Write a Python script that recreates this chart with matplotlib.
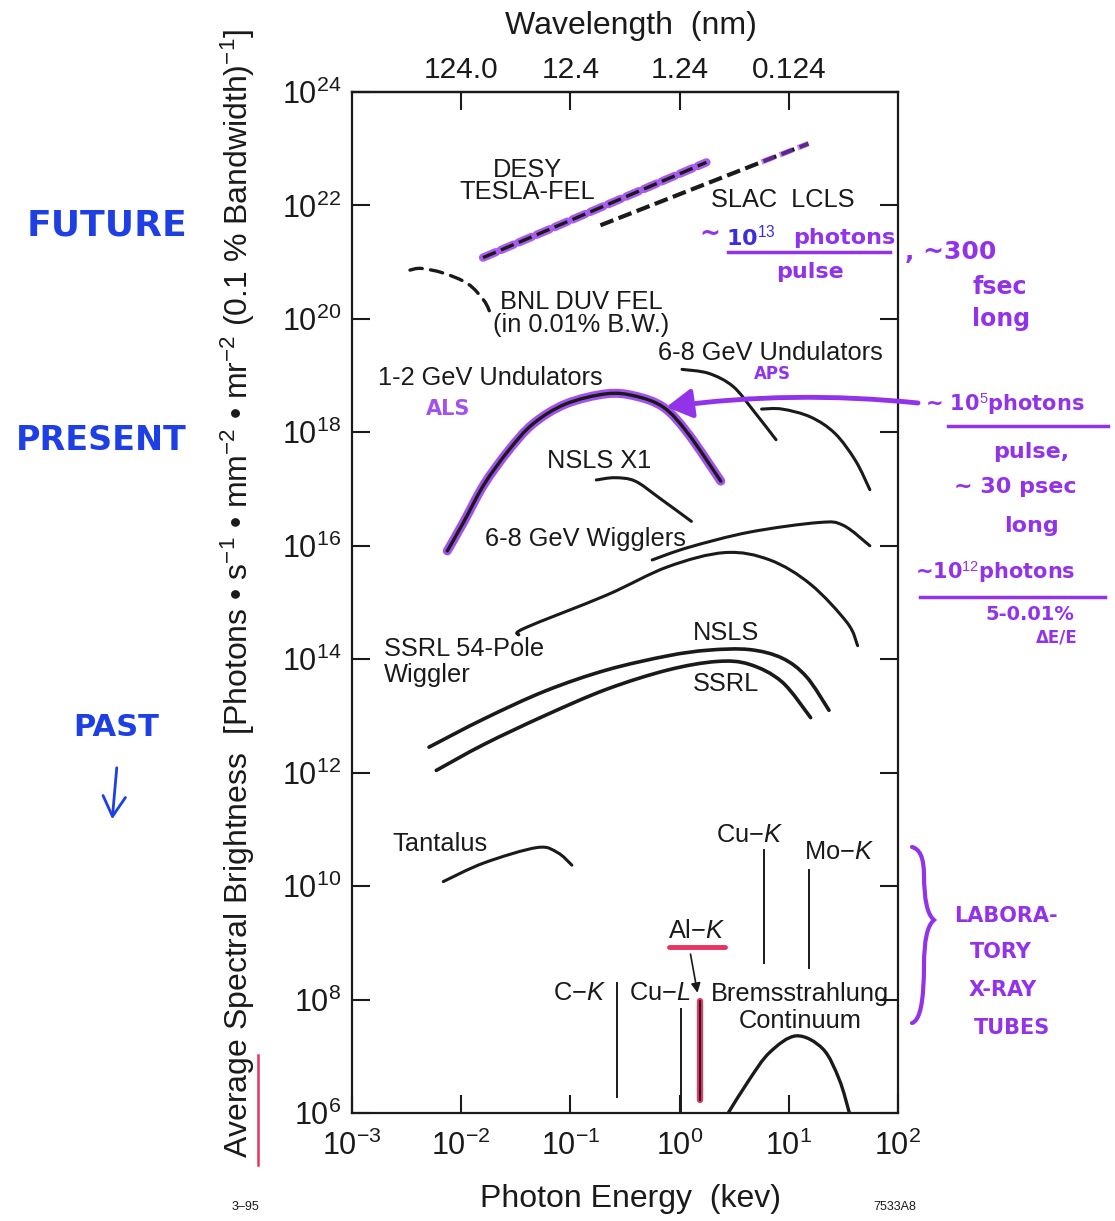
import numpy as np
import matplotlib
matplotlib.use("Agg")
import matplotlib.pyplot as plt
from matplotlib.patches import FancyArrowPatch, PathPatch
from matplotlib.path import Path
from matplotlib.ticker import NullLocator, FixedLocator

plt.rcParams["font.family"] = ["Liberation Sans", "DejaVu Sans"]
plt.rcParams["mathtext.fontset"] = "custom"
plt.rcParams["mathtext.rm"] = "Liberation Sans"
plt.rcParams["mathtext.it"] = "Liberation Sans:italic"
plt.rcParams["mathtext.bf"] = "Liberation Sans:bold"
plt.rcParams["lines.scale_dashes"] = False

# ---- source curves: log10(photon energy / keV) and log10(brightness) ----
desy_loge = [-1.80, 0.246]
desy_logb = [21.08, 22.76]

lcls_loge = [-0.725, 1.18]
lcls_logb = [21.65, 23.09]

bnl_loge = [-2.469, -2.368, -2.167, -1.94, -1.79, -1.727]
bnl_logb = [20.86, 20.89, 20.81, 20.62, 20.32, 20.07]

als_loge = [-2.127, -1.977, -1.791, -1.566, -1.342, -1.043, -0.669, -0.408, -0.146, 0.077, 0.377]
als_logb = [15.91, 16.42, 17.08, 17.68, 18.15, 18.50, 18.68, 18.64, 18.44, 17.98, 17.14]

aps_a_loge = [0.022, 0.266, 0.489, 0.677, 0.883]
aps_a_logb = [19.11, 19.04, 18.81, 18.38, 17.87]

aps_b_loge = [0.751, 0.938, 1.200, 1.423, 1.611, 1.742]
aps_b_logb = [18.41, 18.41, 18.27, 17.98, 17.50, 16.99]

x1_loge = [-0.763, -0.594, -0.407, -0.183, 0.108]
x1_logb = [17.16, 17.20, 17.14, 16.84, 16.43]

wig68_loge = [-0.251, 0.079, 0.639, 1.275, 1.499, 1.742]
wig68_logb = [15.75, 15.97, 16.24, 16.41, 16.36, 16.00]

ssrl54_loge = [-1.473, -1.417, -0.669, -0.108, 0.415, 0.826, 1.200, 1.536, 1.630]
ssrl54_logb = [14.43, 14.55, 15.13, 15.63, 15.88, 15.75, 15.32, 14.64, 14.24]

nsls_loge = [-2.295, -1.790, -1.230, -0.669, -0.108, 0.266, 0.639, 0.938, 1.162, 1.368]
nsls_logb = [12.45, 12.95, 13.44, 13.81, 14.06, 14.16, 14.17, 14.02, 13.69, 13.10]

ssrl_loge = [-2.228, -1.790, -1.230, -0.669, -0.108, 0.340, 0.639, 0.938, 1.200]
ssrl_logb = [12.04, 12.50, 13.01, 13.47, 13.81, 13.96, 13.91, 13.60, 12.97]

tant_loge = [-2.164, -1.790, -1.305, -1.117, -0.987]
tant_logb = [10.08, 10.41, 10.68, 10.59, 10.37]

brems_loge = [0.445, 0.639, 0.826, 1.069, 1.312, 1.462, 1.555]
brems_logb = [6.00, 6.59, 7.07, 7.36, 7.13, 6.59, 6.00]

# characteristic x-ray lines: energy, top and bottom of the line
line_names = ["C-K", "Cu-L", "Al-K", "Cu-K", "Mo-K"]
line_loge = [-0.572, 0.015, 0.190, 0.777, 1.181]
line_top = [8.30, 7.84, 7.97, 10.63, 10.28]
line_bottom = [6.29, 6.00, 6.23, 8.64, 8.55]

# point on the ALS curve that the annotation arrow indicates
als_marker_loge = -0.146
als_marker_logb = 18.44

# axis ticks
energy_ticks = [1e-3, 1e-2, 1e-1, 1e0, 1e1, 1e2]
brightness_ticks = [10.0 ** k for k in range(6, 25, 2)]
wavelength_ticks = [124.0, 12.4, 1.24, 0.124]
wavelength_labels = ["124.0", "12.4", "1.24", "0.124"]

W, H = 1115, 1221
AX_L, AX_R, AX_T, AX_B = 352, 898, 92, 1113
PURPLE = "#9233ea"
BLUE = "#1d3fe4"
RED = "#e8325f"
INK = "#1a1a1a"

# layout grid for in-plot labels: pixel rows of the printed decade ticks
grid_px = np.array([1113, 1001, 888, 777, 668, 560, 449, 332, 213, 92], dtype=float)
grid_dec = np.arange(6, 25, 2, dtype=float)


def fx(x):
    return x / W


def fy(y):
    return 1 - y / H


def ry(y):
    """Pixel row on this log axis for a label laid out against the printed tick rows."""
    dec = np.interp(-y, -grid_px, grid_dec)
    return AX_B - (dec - 6) * (AX_B - AX_T) / 18.0


fig = plt.figure(figsize=(W / 100, H / 100), dpi=100)
ax = fig.add_axes([fx(AX_L), fy(AX_B), (AX_R - AX_L) / W, (AX_B - AX_T) / H])
ax.set_xscale("log")
ax.set_yscale("log")
ax.set_xlim(1e-3, 1e2)
ax.set_ylim(1e6, 1e24)


def smooth_path(le, lb):
    """Smooth Bezier path (Catmull-Rom) through the read points, built in log space."""
    p = np.column_stack([le, lb]).astype(float)
    n = len(p)
    verts = [p[0]]
    codes = [Path.MOVETO]
    for i in range(n - 1):
        p0 = p[i - 1] if i > 0 else p[i]
        p1, p2 = p[i], p[i + 1]
        p3 = p[i + 2] if i + 2 < n else p[i + 1]
        verts += [p1 + (p2 - p0) / 6.0, p2 - (p3 - p1) / 6.0, p2]
        codes += [Path.CURVE4] * 3
    return Path(10 ** np.array(verts), codes)


def curve(le, lb, color=INK, lw=2.2, alpha=1.0, ls="-"):
    ax.add_patch(PathPatch(smooth_path(le, lb), transform=ax.transData, fill=False,
                           edgecolor=color, lw=lw, alpha=alpha, linestyle=ls,
                           capstyle="round", joinstyle="round"))


def straight(le, lb, **kw):
    kw.setdefault("color", INK)
    return ax.plot(10 ** np.asarray(le), 10 ** np.asarray(lb), **kw)


# future FELs (dashed)
straight(desy_loge, desy_logb, color=PURPLE, lw=6, alpha=0.8, dashes=(10, 4), dash_capstyle="round")
straight(desy_loge, desy_logb, lw=2.4, dashes=(10, 4))
straight(lcls_loge, lcls_logb, lw=3.0, dashes=(10, 4))
lcls_slope = (lcls_logb[1] - lcls_logb[0]) / (lcls_loge[1] - lcls_loge[0])
straight([0.75, lcls_loge[1]], [lcls_logb[0] + (0.75 - lcls_loge[0]) * lcls_slope, lcls_logb[1]],
         color=PURPLE, lw=4, alpha=0.55, dashes=(10, 4))
curve(bnl_loge, bnl_logb, lw=2.4, ls=(0, (9, 6)))

# present sources
curve(als_loge, als_logb, color=PURPLE, lw=6.5, alpha=0.85)
curve(als_loge, als_logb, lw=2.4)
curve(aps_a_loge, aps_a_logb)
curve(aps_b_loge, aps_b_logb)
curve(x1_loge, x1_logb)
curve(wig68_loge, wig68_logb)
curve(ssrl54_loge, ssrl54_logb)
curve(nsls_loge, nsls_logb, lw=2.6)
curve(ssrl_loge, ssrl_logb, lw=2.6)
curve(tant_loge, tant_logb)
curve(brems_loge, brems_logb, lw=2.4)

# x-ray tube lines
for name, le, top, bot in zip(line_names, line_loge, line_top, line_bottom):
    if name == "Al-K":
        ax.plot([10 ** le] * 2, [10 ** bot, 10 ** top], color=RED, lw=4.5, solid_capstyle="round")
    ax.plot([10 ** le] * 2, [10 ** bot, 10 ** top], color=INK, lw=1.4)

# axes styling
for s in ax.spines.values():
    s.set_linewidth(1.6)
    s.set_color(INK)
ax.xaxis.set_major_locator(FixedLocator(energy_ticks))
ax.yaxis.set_major_locator(FixedLocator(brightness_ticks))
ax.xaxis.set_minor_locator(NullLocator())
ax.yaxis.set_minor_locator(NullLocator())
ax.tick_params(axis="both", which="major", direction="in", length=13, width=1.5,
               colors=INK, labelsize=22, right=True, top=False)
ax.tick_params(axis="y", pad=8)
ax.tick_params(axis="x", pad=13)


def e_to_nm(e):
    e = np.asarray(e, dtype=float)
    with np.errstate(divide="ignore"):
        return 1.24 / e


sec = ax.secondary_xaxis("top", functions=(e_to_nm, e_to_nm))
sec.xaxis.set_major_locator(FixedLocator(wavelength_ticks))
sec.xaxis.set_minor_locator(NullLocator())
sec.set_xticklabels(wavelength_labels)
sec.tick_params(direction="in", length=13, width=1.5, labelsize=21.5, pad=6, colors=INK)
sec.spines["top"].set_linewidth(1.6)

# axis titles
fig.text(fx(631), fy(26), "Wavelength  (nm)", fontsize=23, ha="center", va="center", color=INK)
fig.text(fx(630), fy(1199), "Photon Energy  (kev)", fontsize=23, ha="center", va="center", color=INK)
fig.text(fx(238), fy(594),
         "Average Spectral Brightness  [Photons \u2022 s$^{-1}$ \u2022 mm$^{-2}$ \u2022 mr$^{-2}$ (0.1 % Bandwidth)$^{-1}$]",
         fontsize=23, rotation=90, ha="center", va="center", color=INK)
fig.text(fx(245), fy(1207), "3\u201395", fontsize=9, ha="center", va="center", color=INK)
fig.text(fx(895), fy(1207), "7533A8", fontsize=9, ha="center", va="center", color=INK)


# curve labels
def label(x, y, s, ha="left", **kw):
    opts = dict(fontsize=18.3, color=INK, va="center", ha=ha)
    opts.update(kw)
    fig.text(fx(x), fy(ry(y)), s, **opts)


label(527, 175, "DESY", ha="center")
label(527, 199, "TESLA-FEL", ha="center")
label(783, 207, "SLAC  LCLS", ha="center")
label(581, 314, "BNL DUV FEL", ha="center")
label(581, 338, "(in 0.01% B.W.)", ha="center")
label(658, 367, "6-8 GeV Undulators")
label(378, 393, "1-2 GeV Undulators")
label(547, 477, "NSLS X1")
label(485, 553, "6-8 GeV Wigglers")
label(384, 658, "SSRL 54-Pole")
label(384, 683, "Wiggler")
label(693, 643, "NSLS")
label(693, 692, "SSRL")
label(392, 847, "Tantalus")
label(716, 838, r"Cu$-$$\mathit{K}$")
label(804, 855, r"Mo$-$$\mathit{K}$")
label(668, 933, r"Al$-$$\mathit{K}$")
label(553, 994, r"C$-$$\mathit{K}$")
label(629, 994, r"Cu$-$$\mathit{L}$")
label(711, 995, "Bremsstrahlung")
label(800, 1022, "Continuum", ha="center")

# Al-K pointer and red underline
fig.add_artist(FancyArrowPatch((fx(690), fy(ry(953))), (fx(698), fy(ry(997))), transform=fig.transFigure,
                               arrowstyle="-|>", mutation_scale=14, lw=1.2, color=INK))
fig.add_artist(plt.Line2D([fx(669), fx(725)], [fy(ry(949))] * 2, color=RED, lw=3.5,
                          solid_capstyle="round"))
fig.add_artist(plt.Line2D([fx(258), fx(258)], [fy(1055), fy(1165)], color=RED, lw=1.8))

# hand-written notes
hand = dict(family=["DejaVu Sans"], fontweight="bold", va="center")
fig.text(fx(107), fy(226), "FUTURE", color=BLUE, fontsize=26, ha="center", **hand)
fig.text(fx(101), fy(440), "PRESENT", color=BLUE, fontsize=24, ha="center", **hand)
fig.text(fx(116), fy(728), "PAST", color=BLUE, fontsize=22, ha="center", **hand)
fig.add_artist(FancyArrowPatch((fx(117), fy(765)), (fx(112), fy(822)), transform=fig.transFigure,
                               arrowstyle="->,head_length=0.8,head_width=0.45", mutation_scale=18,
                               lw=2, color=BLUE))

fig.text(fx(448), fy(ry(425)), "ALS", color=PURPLE, fontsize=15, ha="center", alpha=0.85, **hand)
fig.text(fx(772), fy(ry(389)), "APS", color=PURPLE, fontsize=12, ha="center", **hand)
ax.annotate("", xy=(10 ** als_marker_loge, 10 ** als_marker_logb), xycoords="data",
            xytext=(fx(918), fy(403)), textcoords="figure fraction", annotation_clip=False,
            arrowprops=dict(arrowstyle="-|>,head_length=0.7,head_width=0.4", mutation_scale=22,
                            lw=3.5, color=PURPLE, connectionstyle="arc3,rad=0.06",
                            shrinkA=0, shrinkB=2))

d13 = ry(262) - 262
fig.text(fx(699), fy(244 + d13), "~", color=PURPLE, fontsize=18, ha="left", **hand)
fig.text(fx(726), fy(246 + d13), r"10$^{13}$", color="#3b2fdc", fontsize=16, ha="left", **hand)
fig.text(fx(793), fy(248 + d13), "photons", color=PURPLE, fontsize=16, ha="left", **hand)
fig.add_artist(plt.Line2D([fx(728), fx(890)], [fy(262 + d13)] * 2, color=PURPLE, lw=2.5))
fig.text(fx(810), fy(282 + d13), "pulse", color=PURPLE, fontsize=16, ha="center", **hand)
fig.text(fx(905), fy(262 + d13), ", ~300", color=PURPLE, fontsize=18, ha="left", **hand)
fig.text(fx(1000), fy(297 + d13), "fsec", color=PURPLE, fontsize=17, ha="center", **hand)
fig.text(fx(1001), fy(329 + d13), "long", color=PURPLE, fontsize=17, ha="center", **hand)

fig.text(fx(925), fy(404), r"~ 10$^{5}$photons", color=PURPLE, fontsize=15, ha="left", **hand)
fig.add_artist(plt.Line2D([fx(948), fx(1108)], [fy(426), fy(426)], color=PURPLE, lw=2.5))
fig.text(fx(1031), fy(452), "pulse,", color=PURPLE, fontsize=16, ha="center", **hand)
fig.text(fx(1015), fy(487), "~ 30 psec", color=PURPLE, fontsize=16, ha="center", **hand)
fig.text(fx(1031), fy(526), "long", color=PURPLE, fontsize=16, ha="center", **hand)
fig.text(fx(915), fy(572), r"~10$^{12}$photons", color=PURPLE, fontsize=15, ha="left", **hand)
fig.add_artist(plt.Line2D([fx(920), fx(1105)], [fy(597), fy(597)], color=PURPLE, lw=2.5))
fig.text(fx(1030), fy(615), "5-0.01%", color=PURPLE, fontsize=14, ha="center", **hand)
fig.text(fx(1057), fy(637), "\u0394E/E", color=PURPLE, fontsize=12, ha="center", **hand)

# curly brace for the x-ray tubes
bx = [912, 924, 924, 924, 934, 924, 924, 924, 912]
by = [847, 850, 875, 912, 920, 928, 965, 1020, 1023]
verts = [(fx(x), fy(y)) for x, y in zip(bx, by)]
codes = [Path.MOVETO] + [Path.CURVE3] * 8
fig.add_artist(PathPatch(Path(verts, codes), transform=fig.transFigure, fill=False,
                         edgecolor=PURPLE, lw=3, capstyle="round"))
fig.text(fx(1006), fy(916), "LABORA-", color=PURPLE, fontsize=15, ha="center", **hand)
fig.text(fx(1001), fy(952), "TORY", color=PURPLE, fontsize=15, ha="center", **hand)
fig.text(fx(1003), fy(990), "X-RAY", color=PURPLE, fontsize=15, ha="center", **hand)
fig.text(fx(1012), fy(1028), "TUBES", color=PURPLE, fontsize=15, ha="center", **hand)

fig.savefig("out.png", dpi=100, facecolor="white")
